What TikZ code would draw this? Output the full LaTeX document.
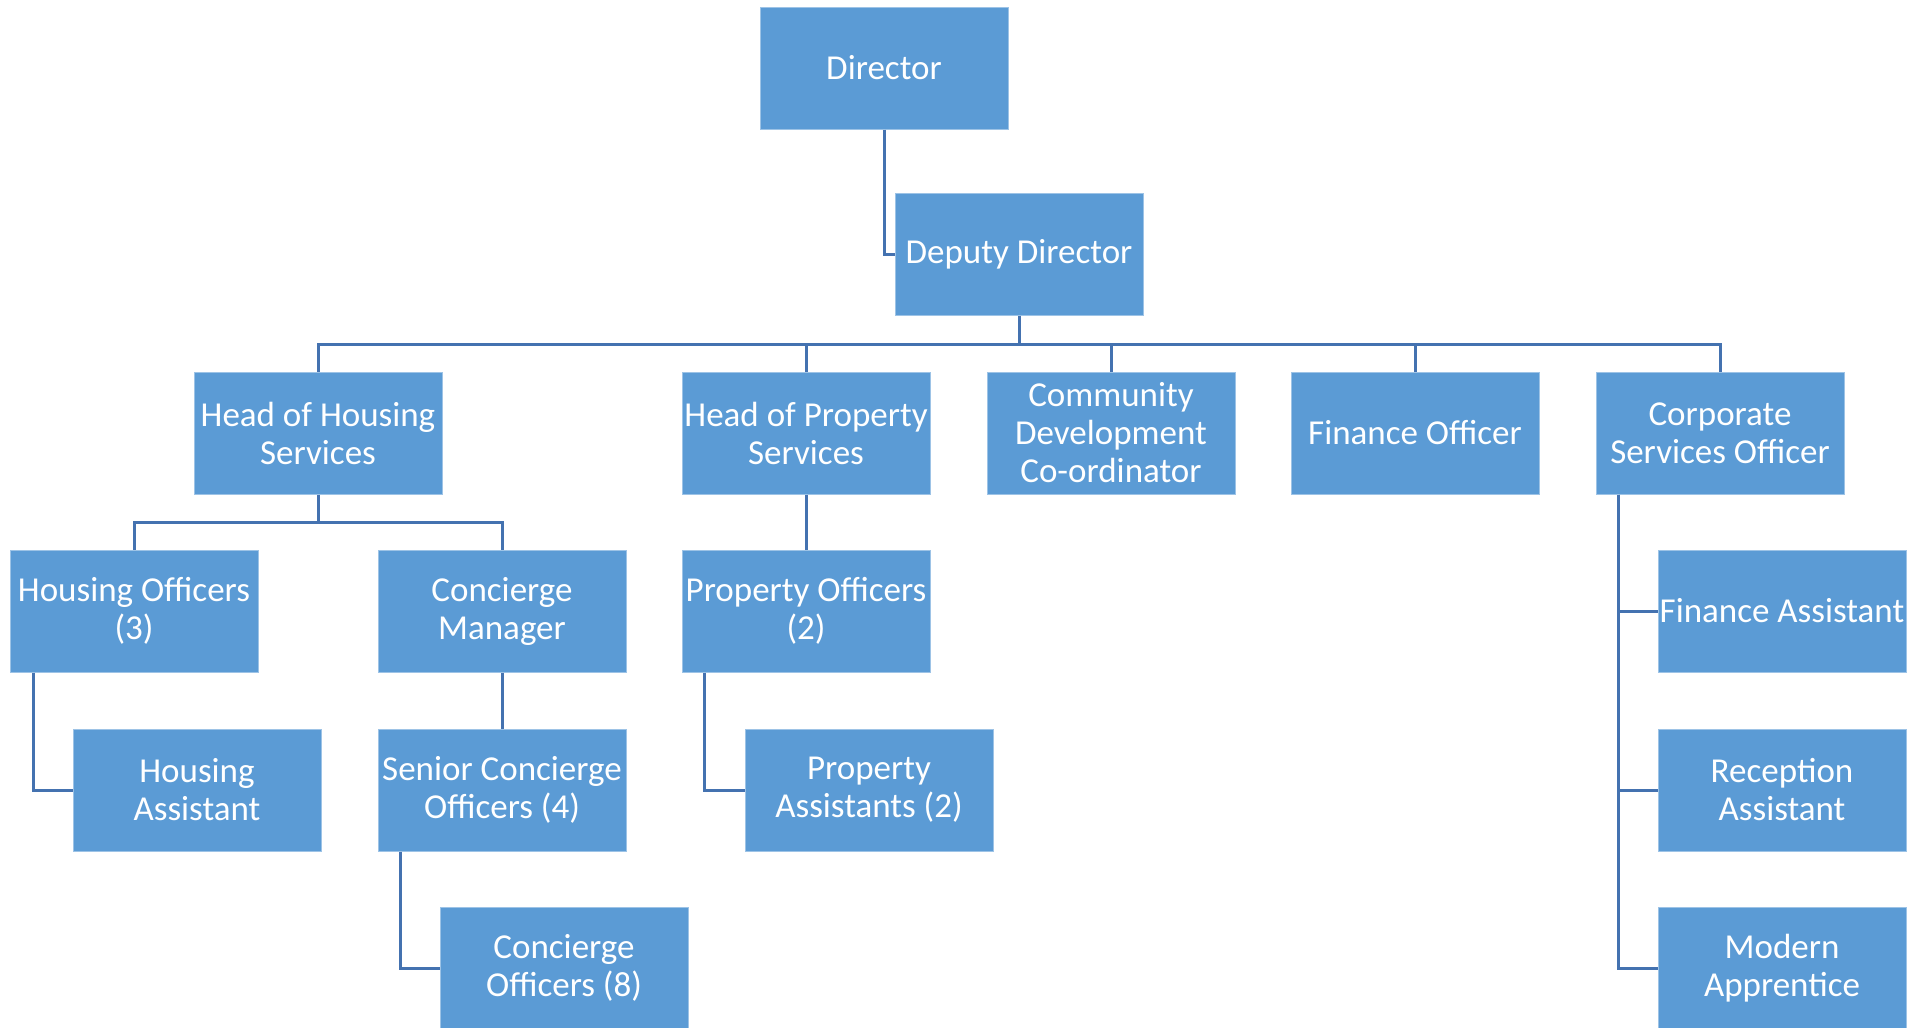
\documentclass[tikz,border=0pt]{standalone}
\usepackage{fontspec}
\setmainfont{Carlito}
\definecolor{boxblue}{HTML}{5B9BD5}
\definecolor{lineblue}{RGB}{68,114,176}
\begin{document}
\begin{tikzpicture}[x=1pt,y=-1pt,
  orgbox/.style={rectangle, fill=boxblue, draw=boxblue!60!white, line width=1pt,
    minimum width=248pt, minimum height=122pt, inner sep=0pt,
    text=white, align=center, font=\fontsize{35}{38}\selectfont},
  link/.style={draw=lineblue, line width=3pt}]
\useasboundingbox (0,0) rectangle (1917,1028);
\node[orgbox] (dir) at (884,68) {Director};
\node[orgbox] (dep) at (1019,254) {Deputy Director};
\node[orgbox] (hhs) at (318,433) {Head of Housing\\Services};
\node[orgbox] (hps) at (806,433) {Head of Property\\Services};
\node[orgbox] (cdc) at (1111,433) {Community\\Development\\Co-ordinator};
\node[orgbox] (fo) at (1415,433) {Finance Officer};
\node[orgbox] (cso) at (1720,433) {Corporate\\Services Officer};
\node[orgbox] (ho) at (134,611) {Housing Officers\\(3)};
\node[orgbox] (cm) at (502,611) {Concierge\\Manager};
\node[orgbox] (po) at (806,611) {Property Officers\\(2)};
\node[orgbox] (fa) at (1782,611) {Finance Assistant};
\node[orgbox] (ha) at (197,790) {Housing\\Assistant};
\node[orgbox] (sco) at (502,790) {Senior Concierge\\Officers (4)};
\node[orgbox] (pa) at (869,790) {Property\\Assistants (2)};
\node[orgbox] (ra) at (1782,790) {Reception\\Assistant};
\node[orgbox] (co) at (564,968) {Concierge\\Officers (8)};
\node[orgbox] (ma) at (1782,968) {Modern\\Apprentice};
\coordinate (bara) at (0,344);
\coordinate (barb) at (0,522);
% Director to deputy
\draw[link] (dir.south) |- (dep.west);
% Deputy to row 2
\draw[link] (dep.south) -- (dep.south |- bara);
\draw[link] (hhs.north) -- (hhs.north |- bara) -- (cso.north |- bara) -- (cso.north);
\draw[link] (hps.north) -- (hps.north |- bara);
\draw[link] (cdc.north) -- (cdc.north |- bara);
\draw[link] (fo.north) -- (fo.north |- bara);
% Head of housing
\draw[link] (hhs.south) -- (hhs.south |- barb);
\draw[link] (ho.north) -- (ho.north |- barb) -- (cm.north |- barb) -- (cm.north);
\draw[link] ([xshift=24pt]ho.south west) |- (ha.west);
\draw[link] (cm.south) -- (sco.north);
\draw[link] ([xshift=23pt]sco.south west) |- (co.west);
% Property
\draw[link] (hps.south) -- (po.north);
\draw[link] ([xshift=23pt]po.south west) |- (pa.west);
% Corporate
\coordinate (cs) at ([xshift=23pt]cso.south west);
\draw[link] (cs) |- (ma.west);
\draw[link] (cs) |- (fa.west);
\draw[link] (cs) |- (ra.west);
\end{tikzpicture}
\end{document}
